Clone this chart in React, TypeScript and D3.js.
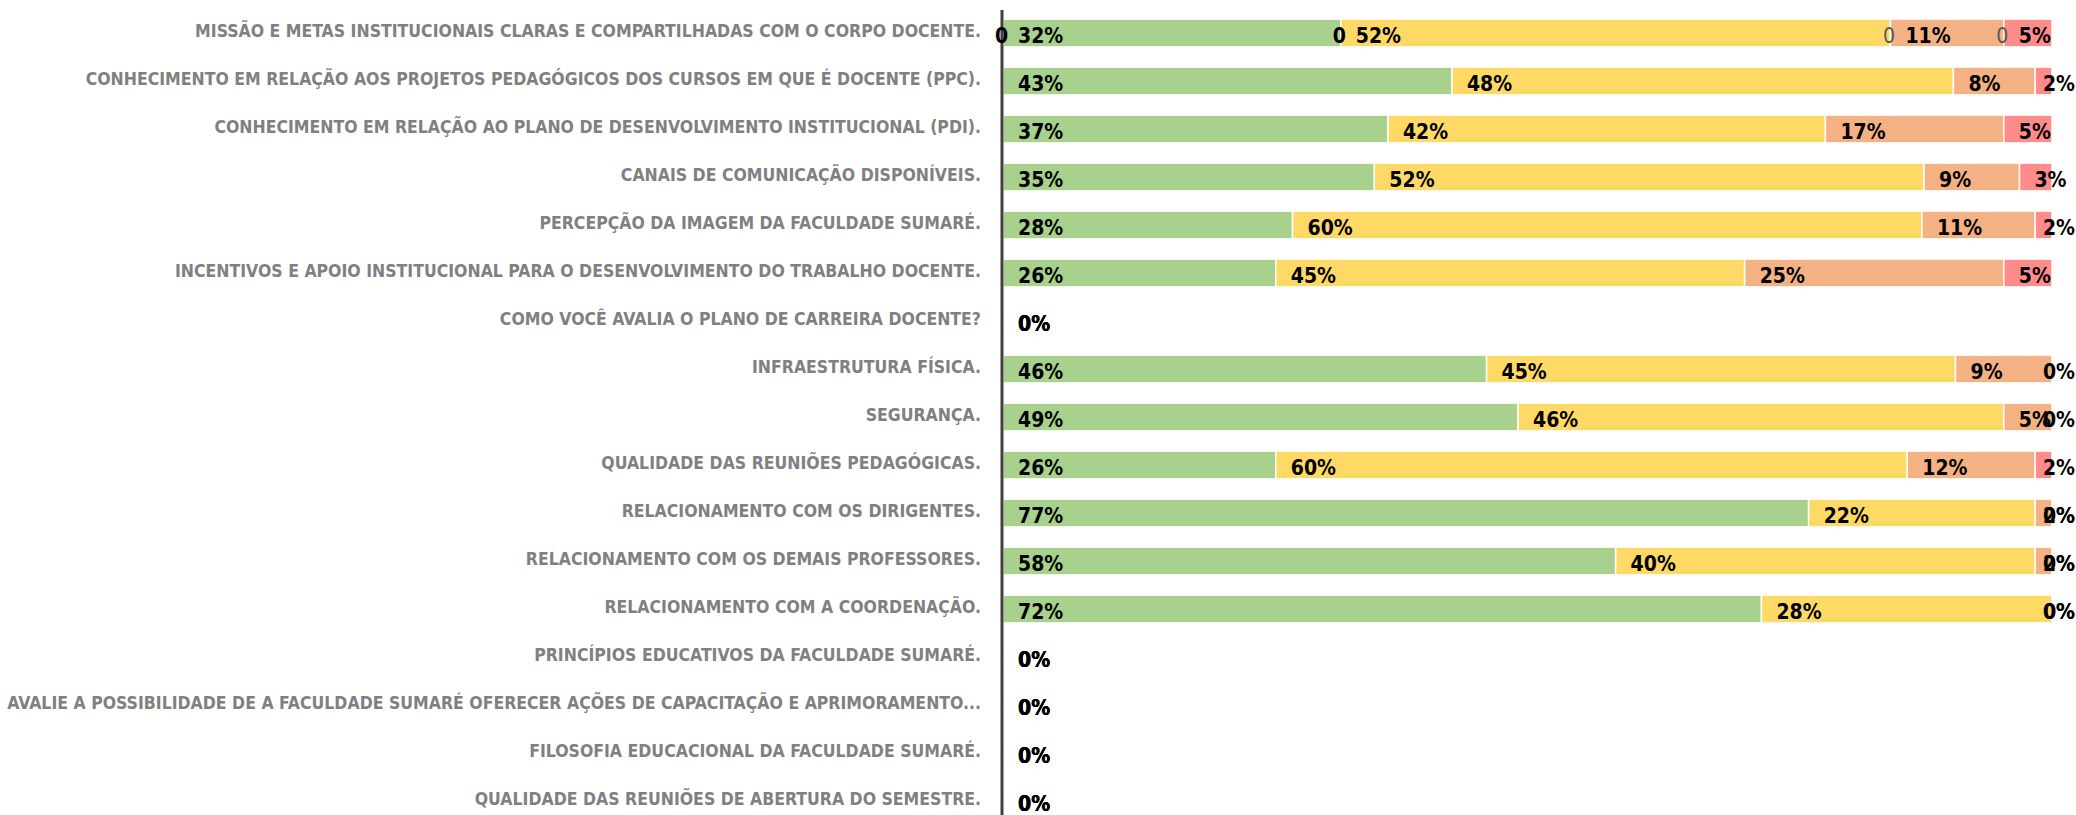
import React, { useEffect } from "react";
import * as d3 from "d3";

const categories = [
  "MISSÃO E METAS INSTITUCIONAIS CLARAS E COMPARTILHADAS COM O CORPO DOCENTE.",
  "CONHECIMENTO EM RELAÇÃO AOS PROJETOS PEDAGÓGICOS DOS CURSOS EM QUE É DOCENTE (PPC).",
  "CONHECIMENTO EM RELAÇÃO AO PLANO DE DESENVOLVIMENTO INSTITUCIONAL (PDI).",
  "CANAIS DE COMUNICAÇÃO DISPONÍVEIS.",
  "PERCEPÇÃO DA IMAGEM DA FACULDADE SUMARÉ.",
  "INCENTIVOS E APOIO INSTITUCIONAL PARA O DESENVOLVIMENTO DO TRABALHO DOCENTE.",
  "COMO VOCÊ AVALIA O PLANO DE CARREIRA DOCENTE?",
  "INFRAESTRUTURA FÍSICA.",
  "SEGURANÇA.",
  "QUALIDADE DAS REUNIÕES PEDAGÓGICAS.",
  "RELACIONAMENTO COM OS DIRIGENTES.",
  "RELACIONAMENTO COM OS DEMAIS PROFESSORES.",
  "RELACIONAMENTO COM A COORDENAÇÃO.",
  "PRINCÍPIOS EDUCATIVOS DA FACULDADE SUMARÉ.",
  "AVALIE A POSSIBILIDADE DE A FACULDADE SUMARÉ OFERECER AÇÕES DE CAPACITAÇÃO E APRIMORAMENTO...",
  "FILOSOFIA EDUCACIONAL DA FACULDADE SUMARÉ.",
  "QUALIDADE DAS REUNIÕES DE ABERTURA DO SEMESTRE.",
];

// percentage per category, one array per series
const otimo = [32.2, 42.8, 36.7, 35.4, 27.6, 26.0, 0, 46.1, 49.1, 26.0, 76.8, 58.4, 72.3, 0, 0, 0, 0];
const bom = [52.4, 47.8, 41.7, 52.4, 60.0, 44.7, 0, 44.7, 46.3, 60.2, 21.6, 40.0, 27.7, 0, 0, 0, 0];
const regular = [10.8, 7.8, 17.0, 9.1, 10.8, 24.7, 0, 9.2, 4.6, 12.2, 1.6, 1.6, 0, 0, 0, 0, 0];
const ruim = [4.6, 1.6, 4.6, 3.1, 1.6, 4.6, 0, 0, 0, 1.6, 0, 0, 0, 0, 0, 0, 0];

// stray "0" labels shown on the first category at each segment start
const firstRowZeroLabels = ["0", "0", "0", "0"];

const seriesValues = [otimo, bom, regular, ruim];
const seriesColors = ["#A9D18E", "#FFD966", "#F4B183", "#FF8B8B"];

const W = 2076;
const H = 815;
const AXIS_X = 1003;
const BAR_END = 2052;
const FONT = '"DejaVu Sans Condensed", "DejaVu Sans", sans-serif';
const DL_SIZE = 21;

export default function App() {
  useEffect(() => {
    document.body.style.margin = "0";
  }, []);

  const x = d3.scaleLinear().domain([0, 100]).range([AXIS_X, BAR_END]);
  const y = d3
    .scaleBand<string>()
    .domain(categories)
    .range([9, 9 + 48 * categories.length])
    .paddingInner(0.42)
    .paddingOuter(0.21);

  const stacks = categories.map((c, i) => {
    let acc = 0;
    return seriesValues.map((s, k) => {
      const v = s[i];
      const seg = { k, x0: acc, x1: acc + v, v };
      acc += v;
      return seg;
    });
  });

  const estWidth = (t: string) => {
    let w = 0;
    for (const ch of t) w += ch === "%" ? 0.902 : 0.626;
    return w * DL_SIZE;
  };

  return (
    <svg width={W} height={H} style={{ display: "block", background: "#fff" }}>
      {categories.map((c, i) => {
        const yc = (y(c) as number) + y.bandwidth() / 2;
        return (
          <text
            key={"cl" + i}
            x={981}
            y={yc + 4}
            textAnchor="end"
            fontFamily={FONT}
            fontStretch="condensed"
            fontWeight="bold"
            fontSize={17.5}
            fill="#808080"
          >
            {c}
          </text>
        );
      })}
      {stacks.map((segs, i) => {
        const c = categories[i];
        const y0 = y(c) as number;
        return (
          <g key={"r" + i}>
            {segs.map((s) =>
              s.v > 0 ? (
                <rect
                  key={"b" + s.k}
                  x={x(s.x0)}
                  y={y0}
                  width={x(s.x1) - x(s.x0)}
                  height={y.bandwidth()}
                  fill={seriesColors[s.k]}
                  stroke="#fff"
                  strokeWidth={1.5}
                />
              ) : null
            )}
          </g>
        );
      })}
      <line x1={AXIS_X - 1} x2={AXIS_X - 1} y1={10} y2={H} stroke="#404040" strokeWidth={3} />
      {stacks.map((segs, i) => {
        const c = categories[i];
        const yc = (y(c) as number) + y.bandwidth() / 2;
        return (
          <g key={"l" + i}>
            {segs.map((s) => {
              const t = Math.round(s.v) + "%";
              let lx = x(s.x0) + 15;
              const w = estWidth(t);
              if (lx + w > W - 1) lx = W - 1 - w;
              return (
                <text
                  key={"t" + s.k}
                  x={lx}
                  y={yc + 10}
                  fontFamily={FONT}
                  fontStretch="condensed"
                  fontWeight="bold"
                  fontSize={DL_SIZE}
                  fill="#000"
                >
                  {t}
                </text>
              );
            })}
            {i === 0 &&
              segs.map((s, k) => (
                <text
                  key={"z" + k}
                  x={x(s.x0) - 1.5}
                  y={yc + 10}
                  textAnchor="middle"
                  fontFamily={FONT}
                  fontStretch="condensed"
                  fontWeight={k < 2 ? "bold" : "normal"}
                  fontSize={DL_SIZE}
                  fill={k < 2 ? "#000" : "#595959"}
                >
                  {firstRowZeroLabels[k]}
                </text>
              ))}
          </g>
        );
      })}
    </svg>
  );
}
